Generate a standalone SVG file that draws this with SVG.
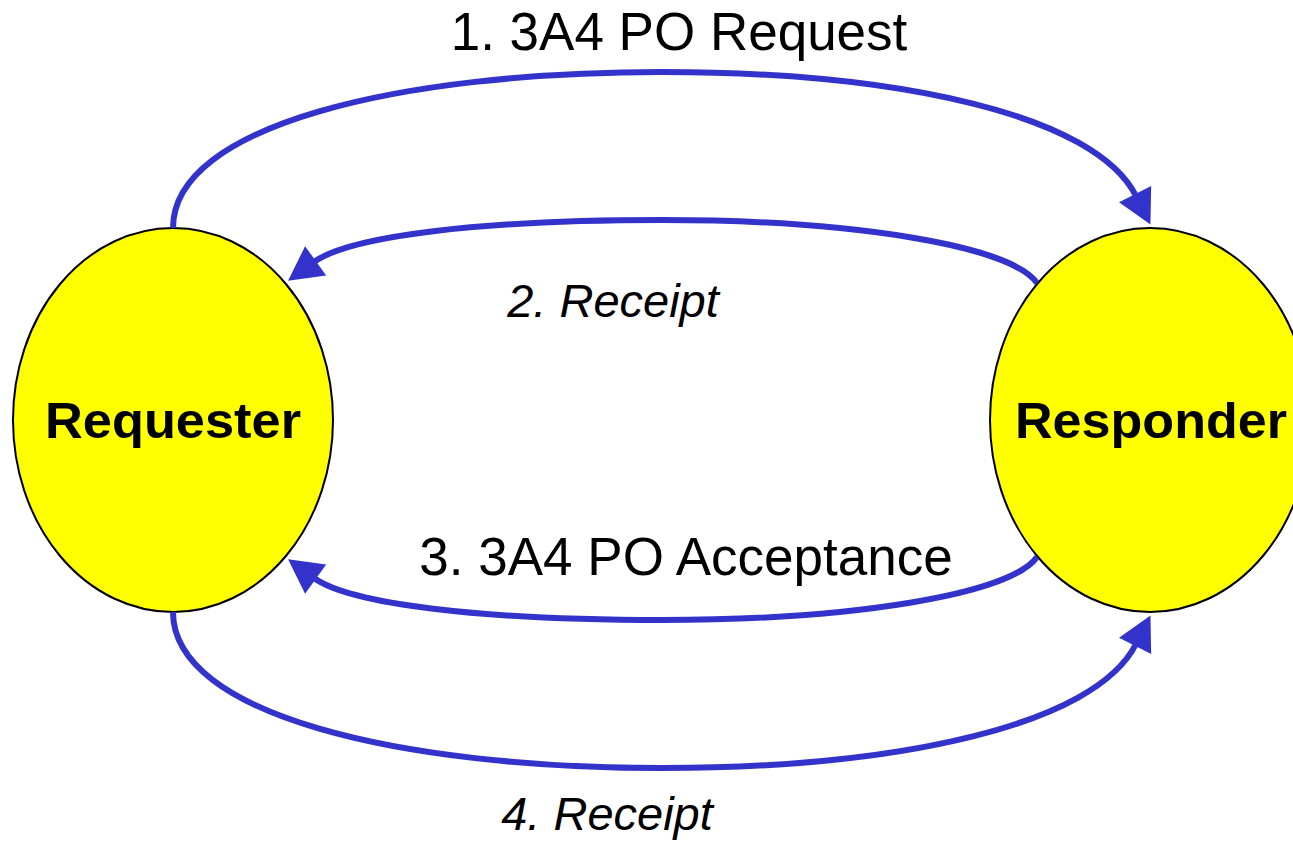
<svg xmlns="http://www.w3.org/2000/svg" width="1293" height="843" viewBox="0 0 1293 843">
<style>
.node{fill:#FFFF00;stroke:#000;stroke-width:2}
.lbl{font-family:"Liberation Sans",Arial,sans-serif;font-weight:bold;font-size:50px;fill:#000;text-anchor:middle}
.edge{fill:none;stroke:#3333CC;stroke-width:6}
.etxt{font-family:"Liberation Sans",Arial,sans-serif;font-size:53px;fill:#000;text-anchor:middle}
.itxt{font-family:"Liberation Sans",Arial,sans-serif;font-style:italic;font-size:47px;fill:#000;text-anchor:middle}
</style>
<defs>
<marker id="ah" markerUnits="userSpaceOnUse" markerWidth="40" markerHeight="40" viewBox="0 -20 40 40" refX="2" refY="0" orient="auto" overflow="visible">
<path d="M0,-18 L34,0 L0,18 z" fill="#3333CC"/>
</marker>
</defs>
<rect width="1293" height="843" fill="#fff"/>
<g id="requester">
<ellipse class="node" cx="173" cy="420" rx="160" ry="192"/>
<text class="lbl" x="173" y="438" textLength="256" lengthAdjust="spacingAndGlyphs">Requester</text>
</g>
<g id="responder">
<ellipse class="node" cx="1150" cy="420" rx="160" ry="192"/>
<text class="lbl" x="1151" y="438" textLength="272" lengthAdjust="spacingAndGlyphs">Responder</text>
</g>
<g id="connectors">
<path class="edge" marker-end="url(#ah)" d="M173,228 C173,125 400,72 662,72 C900,72 1095,115 1136,196"/>
<path class="edge" marker-end="url(#ah)" d="M1037,283 C1010,245 850,220 662,220 C480,220 350,236 314,262"/>
<path class="edge" marker-end="url(#ah)" d="M1037,557 C1010,595 850,620 662,620 C480,620 350,604 314,578"/>
<path class="edge" marker-end="url(#ah)" d="M173,612 C173,715 400,768 662,768 C900,768 1095,725 1136,644"/>
<text class="etxt" x="679" y="50">1. 3A4 PO Request</text>
<text class="itxt" x="613" y="317">2. Receipt</text>
<text class="etxt" x="686" y="575">3. 3A4 PO Acceptance</text>
<text class="itxt" x="607" y="830">4. Receipt</text>
</g>
</svg>
